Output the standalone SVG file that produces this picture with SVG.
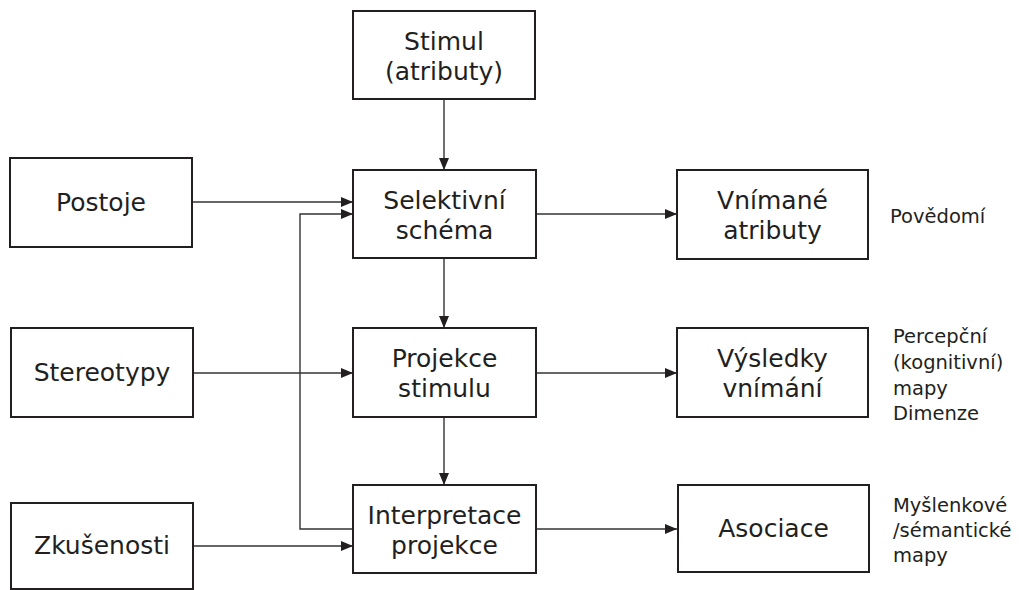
<svg xmlns="http://www.w3.org/2000/svg" width="1019" height="590" viewBox="0 0 1019 590">
  <style>
    .box { fill: #ffffff; stroke: #231f20; stroke-width: 2; }
    .lbl { font-family: "DejaVu Sans", Verdana, sans-serif; font-size: 25px; fill: #231f20; text-anchor: middle; }
    .note { font-family: "DejaVu Sans", Verdana, sans-serif; font-size: 19.5px; fill: #231f20; }
    .conn { fill: none; stroke: #333333; stroke-width: 1.4; }
  </style>
  <defs>
    <marker id="arrow" viewBox="0 0 12 10" refX="12" refY="5" markerWidth="12" markerHeight="10" markerUnits="userSpaceOnUse" orient="auto">
      <path d="M0,0 L12,5 L0,10 Z" fill="#231f20"/>
    </marker>
  </defs>

  <rect width="1019" height="590" fill="#ffffff"/>

  <!-- connectors -->
  <g id="connectors">
    <line class="conn" x1="444" y1="99" x2="444" y2="170" marker-end="url(#arrow)"/>
    <line class="conn" x1="192" y1="202" x2="353" y2="202" marker-end="url(#arrow)"/>
    <polyline class="conn" points="353,529 300,529 300,214 353,214" marker-end="url(#arrow)"/>
    <line class="conn" x1="193" y1="373" x2="353" y2="373" marker-end="url(#arrow)"/>
    <line class="conn" x1="193" y1="546" x2="353" y2="546" marker-end="url(#arrow)"/>
    <line class="conn" x1="536" y1="214" x2="677" y2="214" marker-end="url(#arrow)"/>
    <line class="conn" x1="444" y1="258" x2="444" y2="328" marker-end="url(#arrow)"/>
    <line class="conn" x1="536" y1="373" x2="677" y2="373" marker-end="url(#arrow)"/>
    <line class="conn" x1="444" y1="417" x2="444" y2="485" marker-end="url(#arrow)"/>
    <line class="conn" x1="536" y1="529" x2="677" y2="529" marker-end="url(#arrow)"/>
  </g>

  <g id="stimul">
    <rect class="box" x="353" y="11" width="182" height="88"/>
    <text class="lbl" x="444" y="50">Stimul</text>
    <text class="lbl" x="444" y="80">(atributy)</text>
  </g>

  <g id="postoje">
    <rect class="box" x="10" y="158" width="182" height="89"/>
    <text class="lbl" x="101" y="211">Postoje</text>
  </g>

  <g id="stereotypy">
    <rect class="box" x="11" y="328" width="182" height="89"/>
    <text class="lbl" x="102" y="381">Stereotypy</text>
  </g>

  <g id="zkusenosti">
    <rect class="box" x="11" y="503" width="182" height="86"/>
    <text class="lbl" x="102" y="554">Zkušenosti</text>
  </g>

  <g id="selektivni-schema">
    <rect class="box" x="353" y="170" width="183" height="88"/>
    <text class="lbl" x="444.5" y="209">Selektivní</text>
    <text class="lbl" x="444.5" y="239">schéma</text>
  </g>

  <g id="projekce-stimulu">
    <rect class="box" x="353" y="328" width="183" height="89"/>
    <text class="lbl" x="444.5" y="367">Projekce</text>
    <text class="lbl" x="444.5" y="397">stimulu</text>
  </g>

  <g id="interpretace-projekce">
    <rect class="box" x="353" y="485" width="183" height="88"/>
    <text class="lbl" x="444.5" y="524">Interpretace</text>
    <text class="lbl" x="444.5" y="554">projekce</text>
  </g>

  <g id="vnimane-atributy">
    <rect class="box" x="677" y="170" width="191" height="89"/>
    <text class="lbl" x="772.5" y="209">Vnímané</text>
    <text class="lbl" x="772.5" y="239">atributy</text>
  </g>

  <g id="vysledky-vnimani">
    <rect class="box" x="677" y="328" width="191" height="89"/>
    <text class="lbl" x="772.5" y="367">Výsledky</text>
    <text class="lbl" x="772.5" y="397">vnímání</text>
  </g>

  <g id="asociace">
    <rect class="box" x="678" y="485" width="191" height="87"/>
    <text class="lbl" x="773.5" y="537">Asociace</text>
  </g>

  <!-- side notes -->
  <g id="notes">
    <text class="note" x="890" y="223">Povědomí</text>
    <text class="note" x="893" y="343">Percepční</text>
    <text class="note" x="893" y="369">(kognitivní)</text>
    <text class="note" x="893" y="395">mapy</text>
    <text class="note" x="893" y="420">Dimenze</text>
    <text class="note" x="893" y="512">Myšlenkové</text>
    <text class="note" x="893" y="537">/sémantické</text>
    <text class="note" x="893" y="562">mapy</text>
  </g>
</svg>
